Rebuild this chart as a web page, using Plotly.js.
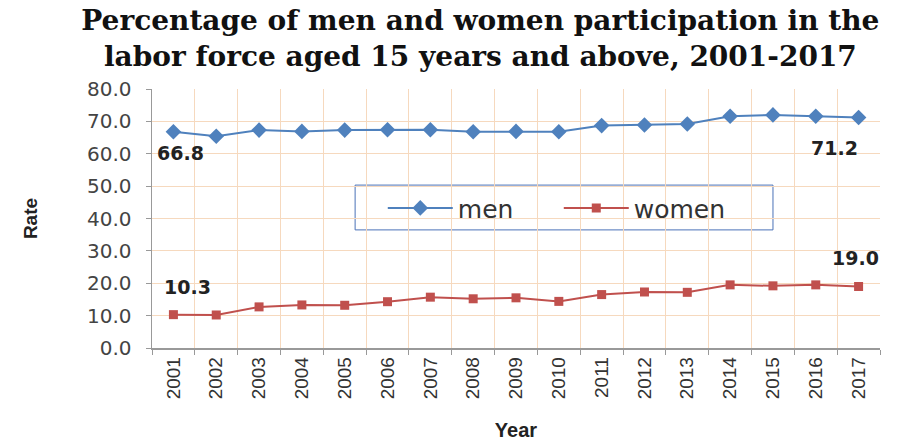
<!DOCTYPE html>
<html>
<head>
<meta charset="utf-8">
<script src="https://cdn.plot.ly/plotly-3.0.1.min.js"></script>
<style>
html,body{margin:0;padding:0;background:#fff;}
#chart{width:915px;height:441px;}
</style>
</head>
<body>
<div id="chart"></div>
<script>
const years = ["2001","2002","2003","2004","2005","2006","2007","2008","2009","2010","2011","2012","2013","2014","2015","2016","2017"];
const men = [66.8,65.4,67.3,66.9,67.3,67.4,67.4,66.8,66.9,66.8,68.7,68.9,69.2,71.6,72.0,71.6,71.2];
const women = [10.3,10.2,12.7,13.3,13.2,14.3,15.7,15.2,15.5,14.4,16.5,17.3,17.2,19.5,19.2,19.5,19.0];
const yTicks = [0,10,20,30,40,50,60,70,80];

const menColor = "#4F81BD";
const womenColor = "#C0504D";
const gridColor = "#F6D9BE";

const traces = [
  {x: years, y: men, name: "men", type: "scatter", mode: "lines+markers",
   line: {color: menColor, width: 2}, marker: {symbol: "diamond", size: 12, color: menColor}},
  {x: years, y: women, name: "women", type: "scatter", mode: "lines+markers",
   line: {color: womenColor, width: 2}, marker: {symbol: "square", size: 9, color: womenColor}}
];

const last = years.length - 1;
const lblFont = {family: "DejaVu Sans, sans-serif", size: 19, color: "#222", weight: "bold"};
const annotations = [
  {x: 0, y: men[0], text: men[0].toFixed(1), showarrow: false, xanchor: "center", yanchor: "middle", xshift: 7, yshift: -21, font: lblFont},
  {x: last, y: men[last], text: men[last].toFixed(1), showarrow: false, xanchor: "center", yanchor: "middle", xshift: -24, yshift: -31, font: lblFont},
  {x: 0, y: women[0], text: women[0].toFixed(1), showarrow: false, xanchor: "center", yanchor: "middle", xshift: 14, yshift: 28, font: lblFont},
  {x: last, y: women[last], text: women[last].toFixed(1), showarrow: false, xanchor: "center", yanchor: "middle", xshift: -3, yshift: 28, font: lblFont}
];

const layout = {
  width: 915, height: 441,
  margin: {l: 152, r: 35, t: 89, b: 93},
  paper_bgcolor: "#fff", plot_bgcolor: "#fff",
  title: {text: "Percentage of men and women participation in the<br>labor force aged 15 years and above, 2001-2017",
    font: {family: "DejaVu Serif, serif", size: 28, color: "#111", weight: "bold"},
    x: 0.525, xanchor: "center", y: 0.933, yanchor: "middle", yref: "container"},
  xaxis: {type: "category", range: [-0.5, last + 0.5], tickson: "boundaries", showgrid: true, gridcolor: gridColor, gridwidth: 1,
    showline: true, linecolor: "#999", linewidth: 1.5, ticks: "outside", ticklen: 5, tickcolor: "#999",
    tickangle: -90, tickfont: {family: "Liberation Sans, Arial, sans-serif", size: 19, color: "#333"},
    title: {text: "<b>Year</b>", font: {family: "Liberation Sans, Arial, sans-serif", size: 20, color: "#222"}, standoff: 24}},
  yaxis: {range: [0, 80], tickvals: yTicks, ticktext: yTicks.map(v => v.toFixed(1)), showgrid: true, gridcolor: gridColor,
    showline: true, linecolor: "#999", linewidth: 1.5, ticks: "outside", ticklen: 5, tickcolor: "#999", ticklabelstandoff: 10,
    zeroline: false, tickfont: {family: "DejaVu Sans, sans-serif", size: 20, color: "#444"},
    title: {text: "<b>Rate</b>", font: {family: "Liberation Sans, Arial, sans-serif", size: 19, color: "#222"}, standoff: 44}},
  legend: {orientation: "h", x: 0.317, y: 0.54, xanchor: "left", yanchor: "middle",
    borderwidth: 0, bgcolor: "rgba(0,0,0,0)",
    font: {family: "DejaVu Sans, sans-serif", size: 25, color: "#333"}, itemwidth: 65, entrywidth: 96},
  shapes: [{type: "rect", xref: "paper", yref: "paper", x0: 0.279, x1: 0.853, y0: 0.456, y1: 0.629,
    line: {color: "#4a72b8", width: 1}, fillcolor: "rgba(255,255,255,0.55)", layer: "between"}],
  annotations: annotations,
  showlegend: true
};

Plotly.newPlot("chart", traces, layout, {displayModeBar: false, staticPlot: true});
</script>
</body>
</html>
